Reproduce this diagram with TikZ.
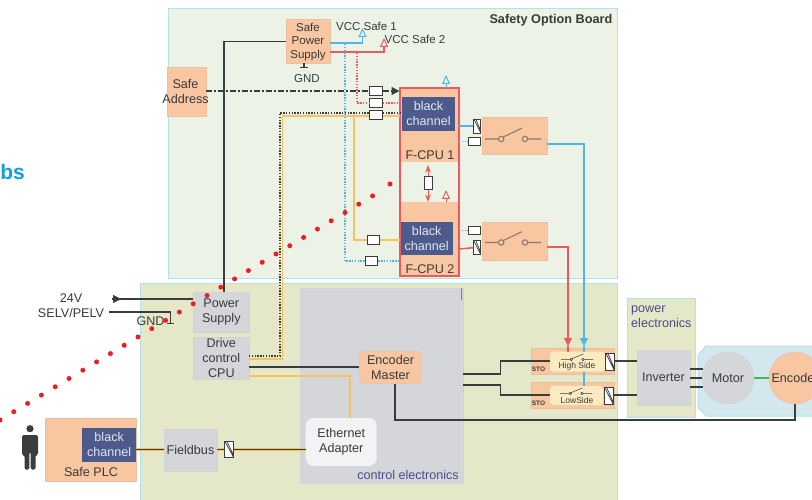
\documentclass[tikz,border=0pt]{standalone}
\usepackage{fontspec}
\setmainfont{Liberation Sans}
\usetikzlibrary{arrows.meta,calc}
\definecolor{boardgreen}{HTML}{ECF3E6}
\definecolor{boardolive}{HTML}{E4E8C8}
\definecolor{boardedge}{HTML}{B4E0E8}
\definecolor{motorblue}{HTML}{D3E7EF}
\definecolor{peach}{HTML}{F8C6A0}
\definecolor{cream}{HTML}{FBEBC0}
\definecolor{greybox}{HTML}{D5D6D9}
\definecolor{navy}{HTML}{4C5A8C}
\definecolor{txt}{HTML}{3A3A3A}
\definecolor{wire}{HTML}{3C3C3C}
\definecolor{contactgrey}{HTML}{8C7C70}
\definecolor{safeblue}{HTML}{4DB7E6}
\definecolor{safered}{HTML}{F0585A}
\definecolor{safeorange}{HTML}{F8C25A}
\definecolor{zonetxt}{HTML}{4C4C8C}
\definecolor{headblue}{HTML}{0FA0DF}
\definecolor{dotred}{HTML}{EE1C25}
\tikzset{
 every node/.style={text=txt,font=\fontsize{12.6}{15}\selectfont,align=center,inner sep=0pt},
 smalltext/.style={font=\fontsize{11.5}{13.8}\selectfont},
 board/.style={draw=boardedge,line width=1pt},
 peachbox/.style={fill=peach,draw=peach!90!gray,line width=.4pt},
 greyblock/.style={fill=greybox,draw=greybox!95!gray,line width=.4pt},
 chanbox/.style={fill=navy,text=white!85!navy},
 resbox/.style={draw=wire,fill=white,line width=1pt,minimum width=12.5pt,minimum height=8.5pt},
 optobox/.style={draw=wire,fill=white,line width=.8pt,minimum width=7pt,minimum height=14pt,
  path picture={\draw[wire,line width=.7pt] (path picture bounding box.north west) -- (path picture bounding box.south east)
   ($(path picture bounding box.north west)+(2pt,0)$) -- ($(path picture bounding box.south east)+(0,2pt)$);}},
 blackwire/.style={draw=wire,line width=1.5pt},
 bluewire/.style={draw=safeblue,line width=1.5pt},
 redwire/.style={draw=safered,line width=1.5pt},
 orangewire/.style={draw=safeorange,line width=1.5pt},
 bluedots/.style={draw=safeblue,line width=1.4pt,dash pattern=on 1.4pt off 1.4pt},
 reddots/.style={draw=safered,line width=1.4pt,dash pattern=on 1.4pt off 1.4pt},
 blackdots/.style={draw=wire,line width=1.4pt,dash pattern=on 1.4pt off 1.4pt},
 addressline/.style={draw=wire,line width=1.3pt,dash pattern=on 6pt off 2pt on 2pt off 2pt},
 opentip/.style={-{Triangle[open,length=9pt,width=8pt,line width=1pt]}},
 fulltip/.style={-{Triangle[length=8pt,width=8pt]}},
 groundbar/.style={draw=wire,line width=1pt},
}
% switch contact, starting at its left end
\newcommand{\contact}[1]{
 \draw[contactgrey,line width=1.1pt] (#1) -- ++(13.5,0) ++(2.7,0) circle (2.7) ++(1.7,-1.8) -- ++(19,-9)
  (#1) ++(40,0) circle (2.7) ++(2.7,0) -- ++(13.5,0);
}
\newcommand{\minicontact}[1]{
 \draw[wire,line width=.5pt] (#1) -- ++(9,0) ++(1.2,0) circle (1.2) ++(.3,-.6) -- ++(12,-5)
  (#1) ++(22,0) circle (1.2) ++(1.2,0) -- ++(9,0);
}
\begin{document}
\begin{tikzpicture}[x=1pt,y=-1pt,>=Stealth]
 \useasboundingbox (0,0) rectangle (812,500);
 \fill[white] (0,0) rectangle (812,500);
 % boards
 \draw[board,fill=boardgreen] (168,9) rectangle (617,278);
 \draw[board,fill=boardolive] (140,283) rectangle (617,505);
 \draw[board,fill=boardolive] (627,298) rectangle (695,417);
 \draw[board,fill=motorblue] (706,346) -- (815,346) -- (815,416) -- (706,416) -- (698,408) -- (698,355) -- cycle;
 \node[font=\bfseries\fontsize{12.7}{15}\selectfont,anchor=east] (optionboard) at (612.5,20) {Safety Option Board};
 \node[text=zonetxt,anchor=west,align=left] (powerzone) at (631,317) {power\\electronics};
 \node[text=headblue,font=\bfseries\fontsize{21}{24}\selectfont,anchor=east] (cuttext) at (25,172) {bs};
 % upper nodes
 \node[peachbox,minimum width=44pt,minimum height=44pt] (safesupply) at (308,41.5) {};
 \node[smalltext] (safesupplytext) at (308,42) {Safe\\Power\\Supply};
 \node[peachbox,minimum width=39pt,minimum height=49pt] (safeaddress) at (186.5,91.5) {};
 \node (addresstext) at (185.5,92) {Safe\\Address};
 \node[smalltext] (vcca) at (366.5,26) {VCC Safe 1};
 \node[smalltext] (vccb) at (415,39) {VCC Safe 2};
 \node[smalltext] (gndtop) at (307,79) {GND};
 \coordinate (vccatip) at (362.5,28);
 \coordinate (vccbtip) at (384,38);
 % F-CPU block
 \fill[peach] (400,88) rectangle (459,162);
 \fill[peach] (400,202.5) rectangle (459,276);
 \node[draw=safered,line width=1.8pt,minimum width=59pt,minimum height=188.5pt] (fcpu) at (429.5,182) {};
 \node[chanbox,minimum width=53.5pt,minimum height=34pt] (chana) at (428.5,113.7) {black\\channel};
 \node[chanbox,minimum width=52pt,minimum height=33.5pt] (chanb) at (426.7,238.5) {black\\channel};
 \node (fcpua) at (430,155) {F-CPU 1};
 \node (fcpub) at (430,269) {F-CPU 2};
 \node[peachbox,minimum width=65pt,minimum height=37.5pt] (switcha) at (514.2,135.5) {};
 \node[peachbox,minimum width=65pt,minimum height=38pt] (switchb) at (514.2,241) {};
 \contact{485,139}
 \contact{485,242.5}
 % small boxes on the safety board
 \node[resbox] (resaddr) at (376,91) {};
 \node[resbox] (resred) at (376,103) {};
 \node[resbox] (resdrive) at (376,115) {};
 \node[resbox] (resorange) at (373.7,240) {};
 \node[resbox] (resblue) at (371.7,261) {};
 \node[resbox] (resaout) at (474.3,141.7) {};
 \node[resbox] (resbout) at (474.3,230.7) {};
 \node[optobox] (optoa) at (477.3,126) {};
 \node[optobox] (optob) at (477.3,247.7) {};
 % lower nodes
 \node[greyblock,minimum width=163pt,minimum height=195pt] (ctrlblock) at (381.5,385.5) {};
 \draw[gray,line width=.5pt] (461,288) -- (461,300);
 \node[text=zonetxt,anchor=east] (ctrlzone) at (459,475) {control electronics};
 \node[greyblock,minimum width=55.5pt,minimum height=40.5pt] (powersupply) at (221.3,312) {Power\\Supply};
 \node[greyblock,minimum width=55.5pt,minimum height=41.5pt] (drivecpu) at (221.3,358) {Drive\\control\\CPU};
 \node[peachbox,rounded corners=5pt,minimum width=62.5pt,minimum height=32pt] (encmaster) at (390.5,367.3) {Encoder\\Master};
 \node[fill=white!70!greybox,rounded corners=8pt,minimum width=71pt,minimum height=48pt] (ethernet) at (341.2,442) {Ethernet\\Adapter};
 \node[greyblock,minimum width=52.5pt,minimum height=41.5pt] (fieldbus) at (190.5,450) {Fieldbus};
 \node[optobox,minimum width=9pt,minimum height=16.5pt] (optobus) at (229.2,449.3) {};
 \node[peachbox,minimum width=91pt,minimum height=63.5pt] (safeplc) at (90.5,449.5) {};
 \node[chanbox,minimum width=53.5pt,minimum height=34pt] (chanplc) at (109.2,444.7) {black\\channel};
 \node (plctext) at (91,472) {Safe PLC};
 \node (vin) at (71,306) {24V\\SELV/PELV};
 \node (gndin) at (150.5,321.5) {GND};
 % STO
 \node[peachbox,minimum width=83.5pt,minimum height=26.5pt] (stoa) at (572.5,361) {};
 \node[peachbox,minimum width=83.5pt,minimum height=26.5pt] (stob) at (572.5,395) {};
 \node[fill=cream,rounded corners=3pt,minimum width=55pt,minimum height=20pt] (highside) at (577.5,361.7) {};
 \node[fill=cream,rounded corners=3pt,minimum width=53pt,minimum height=19pt] (lowside) at (576.5,395.5) {};
 \node[font=\fontsize{8.5}{10}\selectfont] (highlabel) at (577,366) {High Side};
 \node[font=\fontsize{8.5}{10}\selectfont] (lowlabel) at (577,400) {LowSide};
 \minicontact{561,359.5}
 \minicontact{560,393.5}
 \node[font=\bfseries\fontsize{6.5}{7}\selectfont] (stotexta) at (538.5,369.5) {STO};
 \node[font=\bfseries\fontsize{6.5}{7}\selectfont] (stotextb) at (538.5,403.5) {STO};
 \node[optobox,minimum width=8.5pt,minimum height=17pt] (optohigh) at (610,361.5) {};
 \node[optobox,minimum width=8.5pt,minimum height=16.5pt] (optolow) at (609,396) {};
 \node[greyblock,minimum width=52.5pt,minimum height=55pt] (inverter) at (663.5,377.5) {Inverter};
 \node[circle,fill=greybox,draw=greybox!95!gray,minimum size=52pt] (motor) at (728,378) {Motor};
 \node[circle,fill=peach,draw=peach!90!gray,minimum size=52pt] (encoder) at (795,378) {Encoder};
 % person
 \fill[wire] (30,428.7) circle (3.6);
 \fill[wire,rounded corners=1.5pt] (22,435) -- (38,435) -- (38,455) -- (35.5,455) -- (35.5,469.5) -- (30.7,469.5) -- (30.7,452)
  -- (29.3,452) -- (29.3,469.5) -- (24.5,469.5) -- (24.5,455) -- (22,455) -- cycle;
 % power feeds
 \coordinate (vinhead) at (112,299);
 \coordinate (gndstart) at (109,312);
 \draw[blackwire] (vinhead) -- (powersupply.west |- vinhead);
 \draw[draw=wire,fulltip] (vinhead) -- ++(9,0);
 \draw[blackwire] (gndstart) -| (170.5,323);
 \draw[groundbar] (167,323) -- (174,323);
 \draw[blackwire] (safesupply.west) -| (224,291.5);
 \draw[blackwire] (304,63.5) -- (304,68);
 \draw[groundbar] (300,68) -- (308,68);
 % VCC rails
 \draw[bluewire] (330,43) -| (362.5,36);
 \draw[redwire] (330,52) -| (384,46);
 \draw[draw=safeblue,opentip] (362.5,37) -- (vccatip);
 \draw[draw=safered,opentip] (384,47) -- (vccbtip);
 \draw[draw=safeblue,opentip] (446,88) -- (446,75);
 \draw[draw=safered,opentip] (446,202.5) -- (446,190);
 % safe signals
 \draw[bluedots] (345,44) |- (resblue.west);
 \draw[bluedots] (resblue.east) -- (400,261);
 \draw[reddots] (357,53) |- (resred.west);
 \draw[reddots] (resred.east) -- (400,103);
 \draw[addressline] (safeaddress.east |- resaddr) -- (resaddr.west);
 \draw[addressline,fulltip] (resaddr.east) -- (399.5,91);
 \draw[orangewire] (249,359) -| (282.5,116) -- (resdrive.west |- 0,116);
 \draw[orangewire] (resdrive.east |- 0,116) -- (400,116);
 \draw[blackdots] (249,356) -| (280,113) -- (resdrive.west |- 0,113);
 \draw[blackdots] (resdrive.east |- 0,113) -- (400,113);
 \draw[orangewire] (354,116) |- (resorange.west);
 \draw[orangewire] (resorange.east) -- (400,240);
 \draw[bluewire] (459,126) -- (optoa.west);
 \draw[bluedots] (459,141.7) -- (resaout.west);
 \draw[reddots] (459,230.7) -- (resbout.west);
 \draw[redwire] (459,249) -- (optob.west);
 \draw[draw=safered,line width=1pt,<->] (428,165) -- (428,202);
 \node[resbox,minimum width=8pt,minimum height=13pt] (rescross) at (428,183) {};
 % outputs of the switches
 \draw[bluewire,fulltip] (switcha.east |- 0,144) -| (584,346);
 \draw[redwire,fulltip] (switchb.east |- 0,247) -| (568,346);
 \draw[redwire] (568,346) -- (568,352);
 \draw[bluewire] (584,346) -- (584,352);
 \draw[bluewire] (584,371.5) -- (584,386);
 % drive lines
 \draw[blackwire] (drivecpu.east |- 0,367) -- (encmaster.west |- 0,367);
 \draw[orangewire] (drivecpu.east |- 0,376) -| (350,418);
 \draw[blackwire] (463,374) -| (500.7,361) -- (highside.west |- 0,361);
 \draw[blackwire] (463,385) -| (500.7,395) -- (lowside.west |- 0,395);
 \draw[blackwire] (optohigh.east |- 0,361) -- (inverter.west |- 0,361);
 \draw[blackwire] (optolow.east |- 0,395) -- (inverter.west |- 0,395);
 \draw[blackwire] (690,369) -- (703,369) (690,378) -- (702,378) (690,387) -- (703,387);
 \draw[draw=green!60!black!70,line width=1.5pt] (motor.east) -- (encoder.west);
 \draw[blackwire] (encoder.south) |- (395,420) -- (encmaster.south -| 395,0);
 % fieldbus
 \foreach \busa/\busb in {safeplc/fieldbus,fieldbus/optobus,optobus/ethernet}{
  \draw[draw=safeorange,line width=3pt] (\busa.east |- 0,449.5) -- (\busb.west |- 0,449.5);
  \draw[draw=wire,line width=1pt] (\busa.east |- 0,449.5) -- (\busb.west |- 0,449.5);
 }
 % red dotted track
 \foreach \i in {0,...,27}
  \fill[dotred] ({13.8*\i},{420-8.3*\i}) circle (2.5);
 \fill[dotred] (390,184) circle (2.5);
\end{tikzpicture}
\end{document}
